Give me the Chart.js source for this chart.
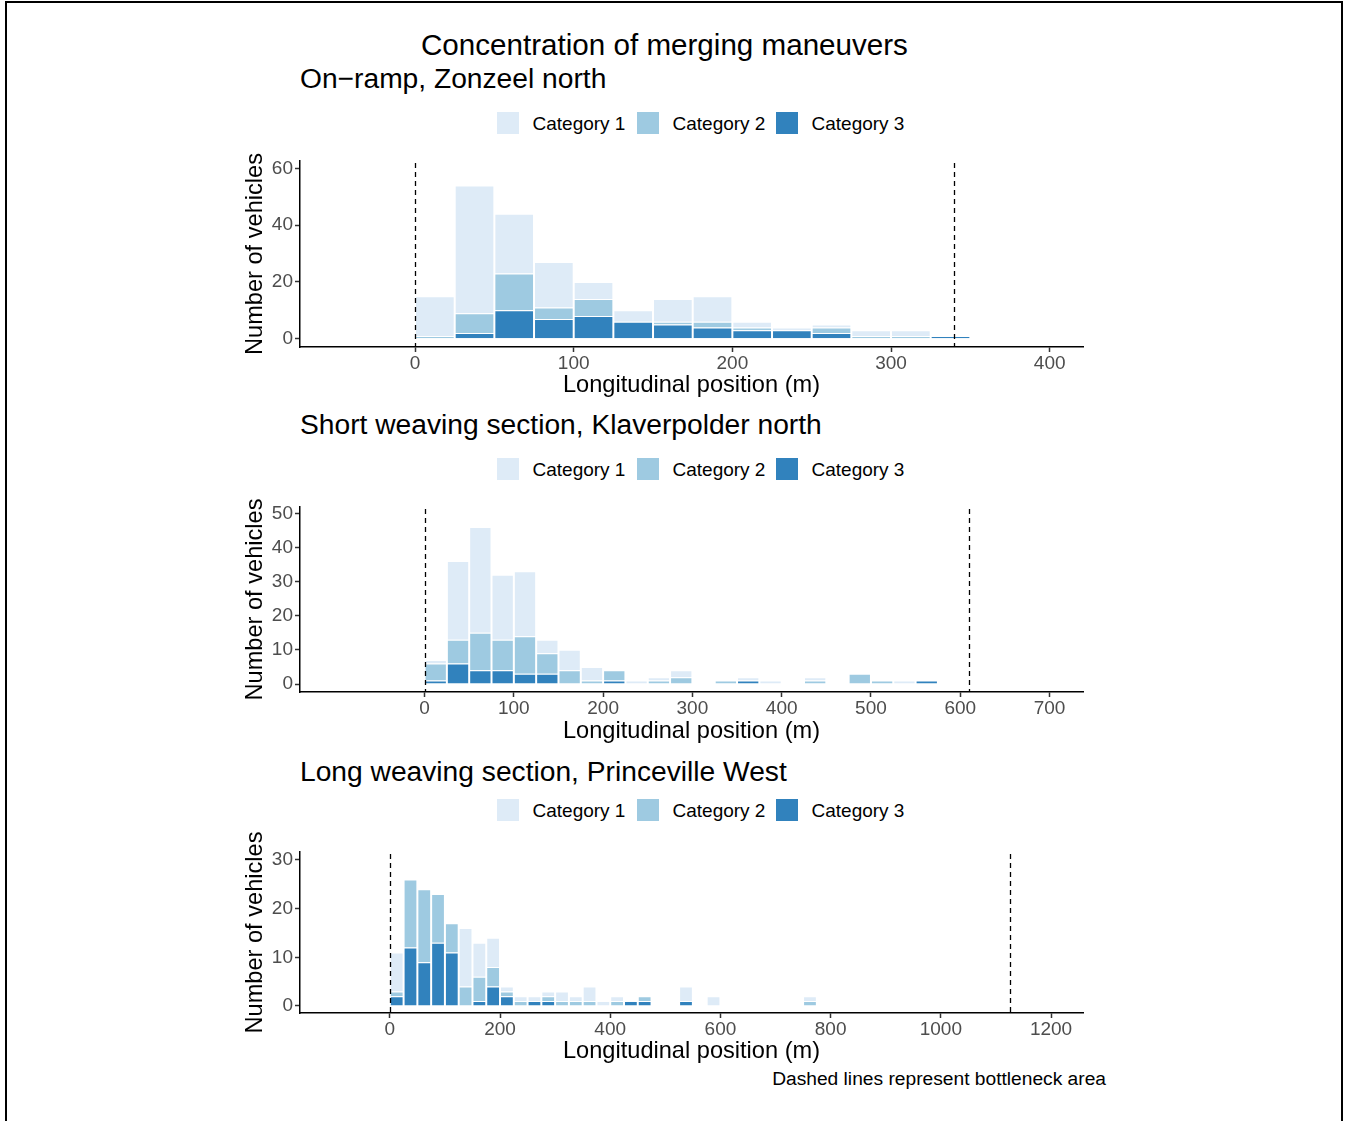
<!DOCTYPE html>
<html><head><meta charset="utf-8">
<script src="https://cdn.jsdelivr.net/npm/chart.js@4.4.1/dist/chart.umd.min.js"></script>
<style>
html,body{margin:0;padding:0;background:#fff;}
body{width:1345px;height:1121px;position:relative;overflow:hidden;font-family:"Liberation Sans",Arial,Helvetica,sans-serif;color:#000;}
.frame{position:absolute;left:5px;top:1px;width:1334px;height:1200px;border:2px solid #000;border-bottom:none;}
.t{position:absolute;white-space:nowrap;line-height:1;}
canvas{position:absolute;left:0;}
.key{position:absolute;width:22px;height:22px;}
</style></head><body>
<div class="frame"></div>
<div id="texts"></div>
<canvas id="c1" width="1345" height="270" style="top:140px"></canvas>
<canvas id="c2" width="1345" height="270" style="top:485px"></canvas>
<canvas id="c3" width="1345" height="245" style="top:830px"></canvas>
<script>
// ---------- data ----------
const mainTitle = "Concentration of merging maneuvers";
const caption = "Dashed lines represent bottleneck area";
const xTitle = "Longitudinal position (m)";
const yTitle = "Number of vehicles";
const categories = ["Category 1", "Category 2", "Category 3"];
const colors = ["#deebf7", "#9ecae1", "#3182bd"];
const binWidth = 25;

// Panel 1: On-ramp
const p1Title = "On\u2212ramp, Zonzeel north";
const p1BinStarts = [0,25,50,75,100,125,150,175,200,225,250,275,300,325];
const p1Cat1 = [14,45,21,16,6,4,8,9,2,1,1,2,2,0];
const p1Cat2 = [1,7,13,4,6,0,1,2,1,0,2,1,1,0];
const p1Cat3 = [0,2,10,7,8,6,5,4,3,3,2,0,0,1];
const p1Bottleneck = [0, 340];
const p1XTicks = [0,100,200,300,400];
const p1YTicks = [0,20,40,60];

// Panel 2: Short weaving section
const p2Title = "Short weaving section, Klaverpolder north";
const p2BinStarts = [0,25,50,75,100,125,150,175,200,225,250,275,300,325,350,375,400,425,450,475,500,525,550];
const p2Cat1 = [1,23,31,19,19,4,6,4,0,1,1,2,0,0,1,1,0,1,0,0,0,1,0];
const p2Cat2 = [5,7,11,9,11,6,4,1,3,0,1,2,0,1,0,0,0,1,0,3,1,0,0];
const p2Cat3 = [1,6,4,4,3,3,0,0,1,0,0,0,0,0,1,0,0,0,0,0,0,0,1];
const p2Bottleneck = [0, 610];
const p2XTicks = [0,100,200,300,400,500,600,700];
const p2YTicks = [0,10,20,30,40,50];

// Panel 3: Long weaving section
const p3Title = "Long weaving section, Princeville West";
const p3BinStarts = [0,25,50,75,100,125,150,175,200,225,250,275,300,325,350,375,400,425,450,475,500,525,550,575,600,625,650,675,700,725,750];
const p3Cat1 = [8,0,0,0,0,12,7,6,1,1,1,1,2,1,3,1,1,0,0,0,0,3,0,2,0,0,0,0,0,0,1];
const p3Cat2 = [1,14,15,10,6,4,5,4,1,1,0,1,1,1,1,0,1,0,1,0,0,0,0,0,0,0,0,0,0,0,1];
const p3Cat3 = [2,12,9,13,11,0,1,4,2,0,1,1,0,0,0,0,0,1,1,0,0,1,0,0,0,0,0,0,0,0,0];
const p3Bottleneck = [0, 1125];
const p3XTicks = [0,200,400,600,800,1000,1200];
const p3YTicks = [0,10,20,30];

// ---------- layout ----------
const FONT = '"Liberation Sans", Arial, Helvetica, sans-serif';
const panels = [
  {id:'c1', title:p1Title, starts:p1BinStarts, c1:p1Cat1, c2:p1Cat2, c3:p1Cat3, bottleneck:p1Bottleneck, xTicks:p1XTicks, yTicks:p1YTicks,
   xMin:-72.5, xMax:421, yMin:-2.9, yMax:62.6, padTop:21, padBottom:10.6, xAxisH:52.4, titleTop:64, legendTop:112},
  {id:'c2', title:p2Title, starts:p2BinStarts, c1:p2Cat1, c2:p2Cat2, c3:p2Cat3, bottleneck:p2Bottleneck, xTicks:p2XTicks, yTicks:p2YTicks,
   xMin:-139.5, xMax:737.5, yMin:-2.34, yMax:51.85, padTop:22, padBottom:9.6, xAxisH:53.4, titleTop:410, legendTop:458},
  {id:'c3', title:p3Title, starts:p3BinStarts, c1:p3Cat1, c2:p3Cat2, c3:p3Cat3, bottleneck:p3Bottleneck, xTicks:p3XTicks, yTicks:p3YTicks,
   xMin:-163, xMax:1258, yMin:-1.44, yMax:31.64, padTop:22, padBottom:9.6, xAxisH:52.4, titleTop:757, legendTop:799}
];

// ---------- html text ----------
const texts = document.getElementById('texts');
function addText(str, css){ const d=document.createElement('div'); d.className='t'; d.textContent=str; Object.assign(d.style, css); texts.appendChild(d); return d; }
addText(mainTitle, {left:'421px', top:'30px', fontSize:'29.6px'});
const keyX = [497, 637, 776];
panels.forEach(p => {
  addText(p.title, {left:'300px', top:p.titleTop+'px', fontSize:'28.2px'});
  categories.forEach((c,i) => {
    const k=document.createElement('div'); k.className='key';
    k.style.left=keyX[i]+'px'; k.style.top=p.legendTop+'px'; k.style.background=colors[i];
    texts.appendChild(k);
    addText(c, {left:(keyX[i]+35.5)+'px', top:(p.legendTop+1.8)+'px', fontSize:'19px'});
  });
});
addText(caption, {right:'239px', top:'1068.7px', fontSize:'19.2px', textAlign:'right'});

// ---------- charts ----------
function pts(starts, vals){ const out=[]; starts.forEach((s,i)=>{ if(vals[i]>0) out.push({x:s+binWidth/2, y:vals[i]}); }); return out; }

const dashPlugin = {
  id:'dash',
  afterDatasetsDraw(chart, args, opts){
    const {ctx, chartArea, scales:{x}} = chart;
    ctx.save();
    ctx.setLineDash([5,4]); ctx.lineWidth = 1.3; ctx.strokeStyle = '#000';
    (opts.values||[]).forEach(v => {
      const px = Math.round(x.getPixelForValue(v)) + 0.5;
      ctx.beginPath(); ctx.moveTo(px, chartArea.top + 2); ctx.lineTo(px, chartArea.bottom); ctx.stroke();
    });
    ctx.restore();
  }
};

const axisCommon = () => ({
  grid:{display:true, offset:false, drawOnChartArea:false, drawTicks:true, tickLength:5, tickColor:'#333', tickWidth:1.5},
  border:{display:true, color:'#000', width:1.5},
});

panels.forEach(p => {
  new Chart(document.getElementById(p.id), {
    type:'bar',
    data:{datasets:[
      {label:categories[2], data:pts(p.starts,p.c3), backgroundColor:colors[2]},
      {label:categories[1], data:pts(p.starts,p.c2), backgroundColor:colors[1]},
      {label:categories[0], data:pts(p.starts,p.c1), backgroundColor:colors[0]}
    ]},
    options:{
      responsive:false, animation:false, devicePixelRatio:1,
      layout:{padding:{left:241.6, right:262, top:p.padTop, bottom:p.padBottom}},
      datasets:{bar:{barPercentage:1, categoryPercentage:1, borderColor:'#ffffff', borderWidth:1, inflateAmount:0}},
      plugins:{legend:{display:false}, tooltip:{enabled:false}, dash:{values:p.bottleneck}},
      scales:{
        x:Object.assign(axisCommon(), {
          type:'linear', stacked:true, offset:false, min:p.xMin, max:p.xMax,
          afterBuildTicks:s => { s.ticks = p.xTicks.map(v => ({value:v})); },
          afterFit:s => { s.height = p.xAxisH; },
          ticks:{color:'#4d4d4d', font:{family:FONT, size:19, lineHeight:1}, padding:2, maxRotation:0, autoSkip:false, callback:v => String(v)},
          title:{display:true, text:xTitle, color:'#000', font:{family:FONT, size:23.6, lineHeight:1.2}, padding:0}
        }),
        y:Object.assign(axisCommon(), {
          type:'linear', stacked:true, min:p.yMin, max:p.yMax,
          afterBuildTicks:s => { s.ticks = p.yTicks.map(v => ({value:v})); },
          afterFit:s => { s.width = 58.4; },
          ticks:{color:'#4d4d4d', font:{family:FONT, size:19, lineHeight:1}, padding:2, autoSkip:false, callback:v => String(v)},
          title:{display:true, text:yTitle, color:'#000', font:{family:FONT, size:23.6, lineHeight:1.2}, padding:0}
        })
      }
    },
    plugins:[dashPlugin]
  });
});
</script>
</body></html>
